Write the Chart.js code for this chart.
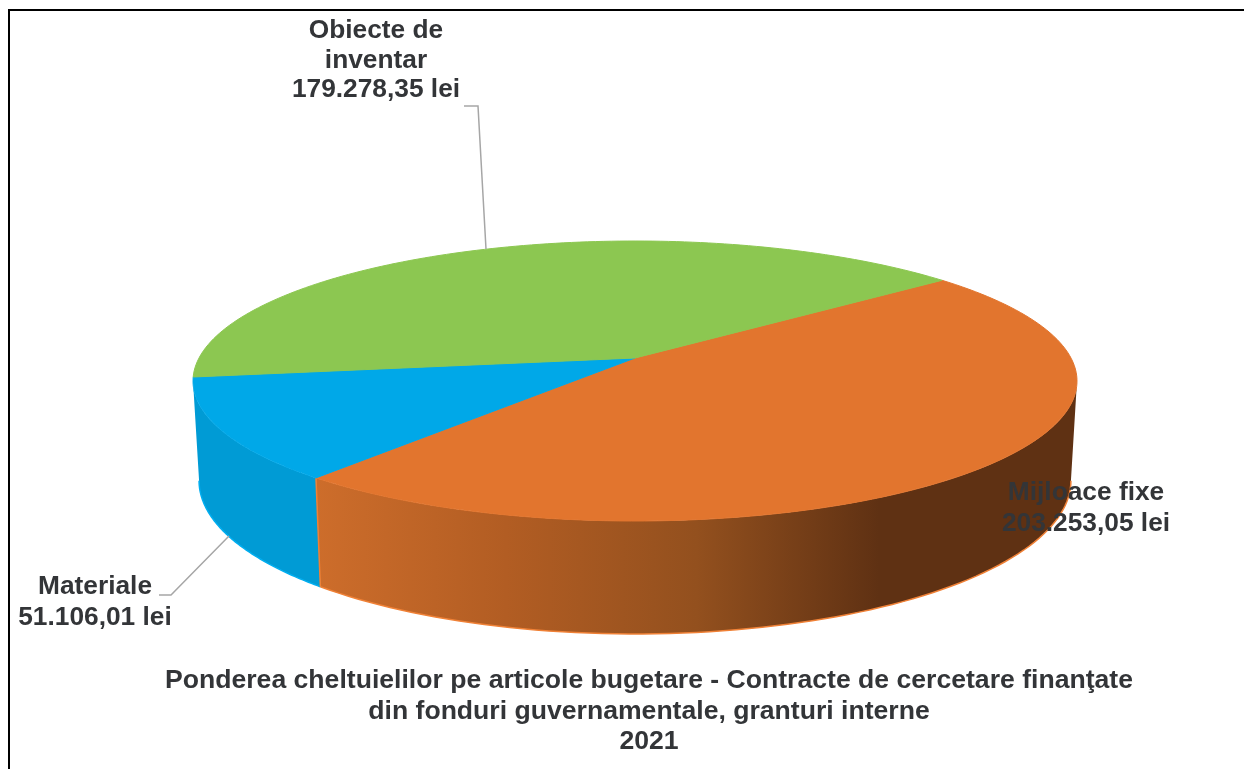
<!DOCTYPE html>
<html lang="ro">
<head>
<meta charset="utf-8">
<title>Ponderea cheltuielilor</title>
<script src="https://cdn.jsdelivr.net/npm/chart.js@4/dist/chart.umd.min.js"></script>
<style>html,body{margin:0;padding:0;background:#fff;overflow:hidden}canvas{display:block}</style>
</head>
<body>
<canvas id="c" width="1244" height="769"></canvas>
<script>
const categories = ["Mijloace fixe", "Materiale", "Obiecte de inventar"];
const labelLines = [["Mijloace fixe"], ["Materiale"], ["Obiecte de", "inventar"]];
const values = [203253.05, 51106.01, 179278.35];
const sliceColors = ["#e2752e", "#00a8e8", "#8cc751"];
const rimColors = ["#f08136", "#00aef0", "#8cc751"];
const titleLines = ["Ponderea cheltuielilor pe articole bugetare - Contracte de cercetare finanţate",
                    "din fonduri guvernamentale, granturi interne", "2021"];
const TEXT = "#333538";
const FONT = "'Liberation Sans', Arial, sans-serif";

// Perspective projection of the unit disc onto the page.
const TOP = {A: 436, cx: 635, a: 77.4, b: 358, c: -0.1643};
const BOT = {A: 430, cx: 635, a: 74.3, b: 455.5, c: -0.1643};
const proj = (P, u, v) => {
  const w = 1 + P.c * v;
  return [P.cx + P.A * u / w, (P.a * v + P.b) / w];
};
const VIS0 = Math.asin(0.1643), VIS1 = Math.PI - VIS0;
const fmt = v => v.toFixed(2).replace(".", ",").replace(/\B(?=(\d{3})+(?!\d))/g, ".") + " lei";

const labelPos = [
  {x: 1086, y: 493, size: 26.3, step: 30.5},
  {x: 95, y: 587, size: 26.3, step: 31},
  {x: 376, y: 31, size: 26.3, step: 29.5}
];
const leaders = [null, [[159,595],[171,595],[229,536]], [[464,106],[478,106],[486,249]]];

function wall(ctx, i, s, e) {
  const a = Math.max(s, VIS0), b = Math.min(e, VIS1);
  if (b <= a) return;
  const n = 80, topPts = [], botPts = [];
  for (let k = 0; k <= n; k++) {
    const t = a + (b - a) * k / n;
    topPts.push(proj(TOP, Math.cos(t), Math.sin(t)));
    botPts.push(proj(BOT, Math.cos(t), Math.sin(t)));
  }
  ctx.beginPath();
  topPts.forEach((p, k) => k ? ctx.lineTo(p[0], p[1]) : ctx.moveTo(p[0], p[1]));
  botPts.reverse().forEach(p => ctx.lineTo(p[0], p[1]));
  ctx.closePath();
  if (i === 0) {
    const g = ctx.createLinearGradient(316, 0, 1077, 0);
    g.addColorStop(0, "#cd6d2b");
    g.addColorStop(0.25, "#b25d23");
    g.addColorStop(0.5, "#93501e");
    g.addColorStop(0.74, "#5f3113");
    g.addColorStop(1, "#5f3113");
    ctx.fillStyle = g;
  } else {
    ctx.fillStyle = "#009bd5";
  }
  ctx.fill();
  ctx.lineWidth = 1.5;
  ctx.strokeStyle = rimColors[i];
  ctx.beginPath();
  botPts.forEach((p, k) => k ? ctx.lineTo(p[0], p[1]) : ctx.moveTo(p[0], p[1]));
  ctx.stroke();
}

function topSlice(ctx, i, s, e, color) {
  const n = 120;
  ctx.beginPath();
  const o = proj(TOP, 0, 0);
  ctx.moveTo(o[0], o[1]);
  for (let k = 0; k <= n; k++) {
    const t = s + (e - s) * k / n;
    const p = proj(TOP, Math.cos(t), Math.sin(t));
    ctx.lineTo(p[0], p[1]);
  }
  ctx.closePath();
  ctx.fillStyle = color;
  ctx.fill();
  ctx.lineWidth = 1;
  ctx.strokeStyle = color;
  ctx.stroke();
}

const pie3d = {
  id: "pie3d",
  beforeDraw(chart) {
    const ctx = chart.ctx;
    ctx.save();
    ctx.strokeStyle = "#000";
    ctx.lineWidth = 2;
    ctx.beginPath();
    ctx.moveTo(9, 769); ctx.lineTo(9, 10); ctx.lineTo(1244, 10);
    ctx.stroke();
    ctx.restore();
  },
  beforeDatasetsDraw(chart) {
    const ctx = chart.ctx, arcs = chart.getDatasetMeta(0).data;
    ctx.save();
    arcs.forEach((a, i) => wall(ctx, i, a.startAngle, a.endAngle));
    // vertical edge between blue and orange walls
    const j = arcs[1].startAngle;
    const p1 = proj(TOP, Math.cos(j), Math.sin(j)), p2 = proj(BOT, Math.cos(j), Math.sin(j));
    ctx.strokeStyle = rimColors[0]; ctx.lineWidth = 1.5;
    ctx.beginPath(); ctx.moveTo(p1[0], p1[1]); ctx.lineTo(p2[0], p2[1]); ctx.stroke();
    // top faces
    arcs.forEach((a, i) => topSlice(ctx, i, a.startAngle, a.endAngle, a.options.backgroundColor));
    // leader lines
    ctx.strokeStyle = "#a6a6a6"; ctx.lineWidth = 1.5;
    leaders.forEach(l => {
      if (!l) return;
      ctx.beginPath();
      l.forEach((p, k) => k ? ctx.lineTo(p[0], p[1]) : ctx.moveTo(p[0], p[1]));
      ctx.stroke();
    });
    // data labels
    ctx.fillStyle = TEXT;
    ctx.textAlign = "center";
    ctx.textBaseline = "middle";
    categories.forEach((c, i) => {
      const lp = labelPos[i];
      ctx.font = "bold " + lp.size + "px " + FONT;
      const lines = labelLines[i].concat([fmt(values[i])]);
      lines.forEach((t, k) => ctx.fillText(t, lp.x, lp.y + k * lp.step));
    });
    ctx.restore();
    return false;
  }
};

new Chart(document.getElementById("c"), {
  type: "pie",
  data: {labels: categories, datasets: [{data: values, backgroundColor: sliceColors, borderWidth: 0}]},
  options: {
    responsive: false,
    animation: false,
    rotation: 51,
    layout: {padding: {left: 54, bottom: 12}},
    plugins: {
      legend: {display: false},
      tooltip: {enabled: false},
      title: {
        display: true,
        position: "bottom",
        text: titleLines,
        color: TEXT,
        font: {family: FONT, size: 26.6, weight: "bold", lineHeight: 1.147},
        padding: 0
      }
    }
  },
  plugins: [pie3d]
});
</script>
</body>
</html>
